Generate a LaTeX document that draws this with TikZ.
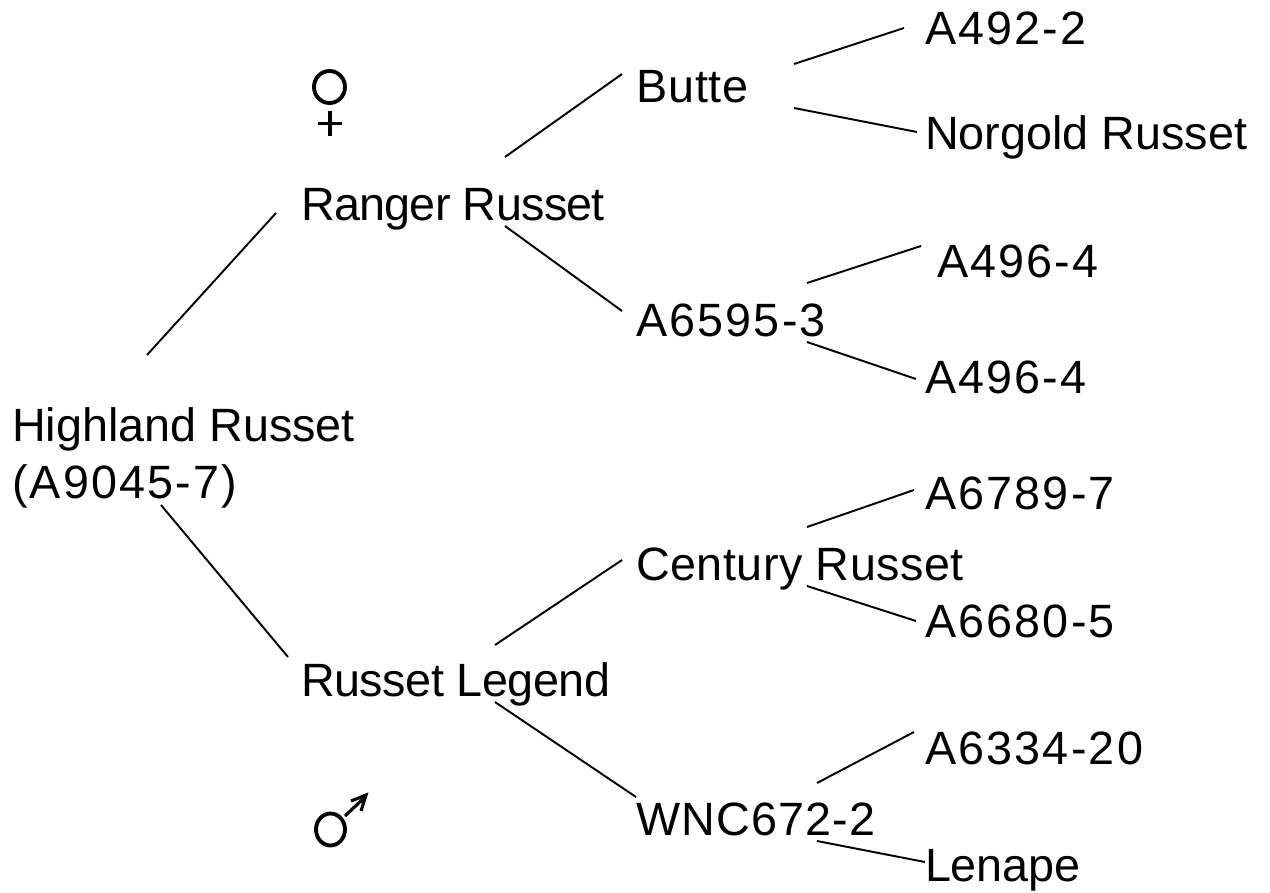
\documentclass[tikz,border=0pt]{standalone}
\usepackage{fontspec}
\setmainfont{Liberation Sans}
\newcommand{\px}{0.02}
\tikzset{
  lab/.style={anchor=base west,inner sep=0pt,outer sep=0pt,text=black,font=\fontsize{26.6}{32}\selectfont\addfontfeature{LetterSpace=#1}},
  lab/.default=0,
  ln/.style={draw=black,line width=1.1pt},
  sym/.style={draw=black,line width=2.2pt}
}
\begin{document}
\begin{tikzpicture}[x=\px cm,y=-\px cm]
\useasboundingbox (0,0) rectangle (1270,892);
\node[lab] (hr) at (12,441) {Highland Russet};
\node[lab=4.7] (a9) at (12,498) {(A9045-7)};
\node[lab=-1.5] (rr) at (301,220) {Ranger Russet};
\node[lab=-1] (rl) at (301,696) {Russet Legend};
\node[lab=2] (bu) at (636,103) {Butte};
\node[lab=4.7] (a6) at (636,336) {A6595-3};
\node[lab=1] (cr) at (636,580) {Century Russet};
\node[lab=2.5] (wn) at (636,835) {WNC672-2};
\node[lab=4.7] (a1) at (925,45) {A492-2};
\node[lab] (no) at (925,149) {Norgold Russet};
\node[lab=4.7] (a2) at (937,277) {A496-4};
\node[lab=4.7] (a3) at (925,393) {A496-4};
\node[lab=4.7] (a4) at (925,509) {A6789-7};
\node[lab=4.7] (a5) at (925,637) {A6680-5};
\node[lab=4.7] (a7) at (925,764) {A6334-20};
\node[lab] (le) at (925,881) {Lenape};
\coordinate (c1) at (147,355); \coordinate (c2) at (276,213);
\coordinate (c3) at (161,505); \coordinate (c4) at (288,657);
\coordinate (c5) at (505,157); \coordinate (c6) at (622,74);
\coordinate (c7) at (505,226); \coordinate (c8) at (622,311);
\coordinate (c9) at (495,645); \coordinate (c10) at (622,560);
\coordinate (c11) at (495,702); \coordinate (c12) at (636,797);
\coordinate (d1) at (794,64); \coordinate (d2) at (904,28);
\coordinate (d3) at (794,108); \coordinate (d4) at (917,132);
\coordinate (d5) at (807,283); \coordinate (d6) at (921,246);
\coordinate (d7) at (807,342); \coordinate (d8) at (916,379);
\coordinate (d9) at (807,527); \coordinate (d10) at (914,490);
\coordinate (d11) at (807,586); \coordinate (d12) at (916,621);
\coordinate (d13) at (817,783); \coordinate (d14) at (914,732);
\coordinate (d15) at (817,841); \coordinate (d16) at (925,862);
\foreach \a/\b in {c1/c2,c3/c4,c5/c6,c7/c8,c9/c10,c11/c12,d1/d2,d3/d4,d5/d6,d7/d8,d9/d10,d11/d12,d13/d14,d15/d16}
  \draw[ln] (\a) -- (\b);
% female symbol
\draw[sym] (329.5,87) ellipse [x radius=15.5,y radius=16];
\draw[sym,line width=1.8pt] (330,111) -- (330,136) (318,123.5) -- (342,123.5);
% male symbol
\draw[sym] (330.5,829.5) ellipse [x radius=14.5,y radius=16];
\draw[sym,line width=1.8pt] (345,816) -- (365,797) (351,801) -- (366,795) -- (361,811);
\end{tikzpicture}
\end{document}
